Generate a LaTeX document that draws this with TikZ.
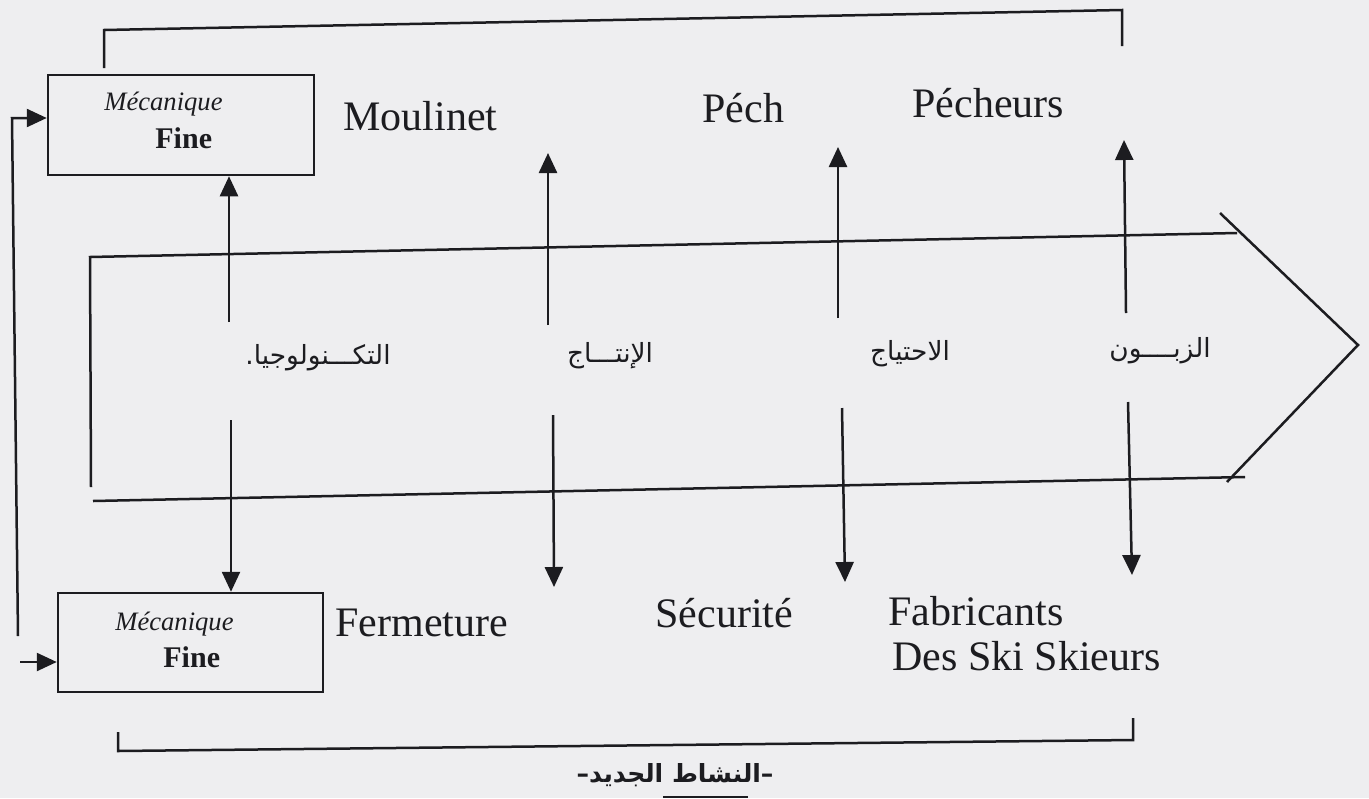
\documentclass[tikz,border=0pt]{standalone}
\usepackage{fontspec}
\setmainfont{Liberation Serif}
\newfontfamily\arabicfont[Script=Arabic]{DejaVu Sans}
\TeXXeTstate=1
\usetikzlibrary{arrows.meta}
\definecolor{paper}{RGB}{238,238,240}
\definecolor{ink}{RGB}{28,28,32}
\begin{document}
\begin{tikzpicture}[x=0.5pt,y=-0.5pt,
  lin/.style={draw=ink, line width=1.25pt},
  arr/.style={lin, -{Triangle[width=9pt,length=10pt]}},
  lab/.style={inner sep=0pt, anchor=base west, text=ink, font=\fontsize{21}{25}\selectfont},
  mec/.style={inner sep=0pt, anchor=base west, text=ink, font=\itshape\fontsize{13.3}{16}\selectfont},
  fine/.style={inner sep=0pt, anchor=base west, text=ink, font=\bfseries\fontsize{15}{18}\selectfont},
  ar/.style={inner sep=0pt, anchor=base, text=ink, font=\arabicfont\fontsize{13.2}{16}\selectfont},
  artitle/.style={inner sep=0pt, anchor=base, text=ink, font=\arabicfont\bfseries\fontsize{12.5}{15}\selectfont},
  box/.style={draw=ink, line width=1.25pt, rectangle, inner sep=0pt}]
\fill[paper] (0,0) rectangle (1369,798);
\useasboundingbox (0,0) rectangle (1369,798);

% boxes
\node[box, minimum width=133pt, minimum height=50pt] (mt) at (181,125) {};
\node[box, minimum width=132.5pt, minimum height=49.5pt] (mb) at (190.5,642.5) {};
\node[mec] (mt1) at (104,110) {Mécanique};
\node[fine] (mt2) at (155,148) {Fine};
\node[mec] (mb1) at (115,630) {Mécanique};
\node[fine] (mb2) at (163,667) {Fine};

% big arrow shape
\coordinate (sTL) at (90,257);
\coordinate (sTR) at (1237,233);
\coordinate (sLB) at (91,487);
\coordinate (sBL) at (93,501);
\coordinate (sBR) at (1245,477);
\coordinate (dA) at (1220,213);
\coordinate (dM) at (1358,345);
\coordinate (dB) at (1227,482);
\draw[lin] (sLB) -- (sTL) -- (sTR);
\draw[lin] (sBL) -- (sBR);
\draw[lin] (dA) -- (dM) -- (dB);

% top and bottom brackets
\coordinate (tb1) at (104,68);
\coordinate (tb2) at (104,30);
\coordinate (tb3) at (1122,10);
\coordinate (tb4) at (1122,46);
\draw[lin] (tb1) -- (tb2) -- (tb3) -- (tb4);
\coordinate (bb1) at (118,732);
\coordinate (bb2) at (118,751);
\coordinate (bb3) at (1133,740);
\coordinate (bb4) at (1133,718);
\draw[lin] (bb1) -- (bb2) -- (bb3) -- (bb4);

% left feedback
\coordinate (fbB) at (18,636);
\coordinate (fbT) at (12,118);
\draw[arr] (fbB) -- (fbT) -- (fbT -| mt.west);
\coordinate (fa) at (20,662);
\draw[arr] (fa) -- (fa -| mb.west);

% column arrows
\coordinate (c1a) at (229,322);
\coordinate (c1b) at (231,420);
\draw[arr] (c1a) -- (c1a |- mt.south);
\draw[arr] (c1b) -- (c1b |- mb.north);
\coordinate (c2a) at (548,325);
\coordinate (c2t) at (548,153);
\coordinate (c2b) at (553,415);
\coordinate (c2e) at (554,587);
\draw[arr] (c2a) -- (c2t);
\draw[arr] (c2b) -- (c2e);
\coordinate (c3a) at (838,318);
\coordinate (c3t) at (838,147);
\coordinate (c3b) at (842,408);
\coordinate (c3e) at (845,582);
\draw[arr] (c3a) -- (c3t);
\draw[arr] (c3b) -- (c3e);
\coordinate (c4a) at (1126,313);
\coordinate (c4t) at (1124,140);
\coordinate (c4b) at (1128,402);
\coordinate (c4e) at (1132,575);
\draw[arr] (c4a) -- (c4t);
\draw[arr] (c4b) -- (c4e);

% labels
\node[lab] (moul) at (343,130) {Moulinet};
\node[lab] (pech) at (702,122) {Péch};
\node[lab] (pecheurs) at (912,117) {Pécheurs};
\node[lab] (ferm) at (335,636) {Fermeture};
\node[lab] (secu) at (655,627) {Sécurité};
\node[lab] (fabr) at (888,625) {Fabricants};
\node[lab] (desski) at (892,670) {Des Ski Skieurs};

% arabic labels
\node[ar] (tech) at (318,364) {\beginR التكـــنولوجيا.\endR};
\node[ar] (prod) at (610,362) {\beginR الإنتـــاج\endR};
\node[ar] (need) at (910,360) {\beginR الاحتياج\endR};
\node[ar] (cli) at (1160,357) {\beginR الزبــــون\endR};
\node[artitle] (title) at (675,782) {\beginR –النشاط الجديد–\endR};
\coordinate (ul1) at (663,797);
\coordinate (ul2) at (748,797);
\draw[lin] (ul1) -- (ul2);
\end{tikzpicture}
\end{document}
